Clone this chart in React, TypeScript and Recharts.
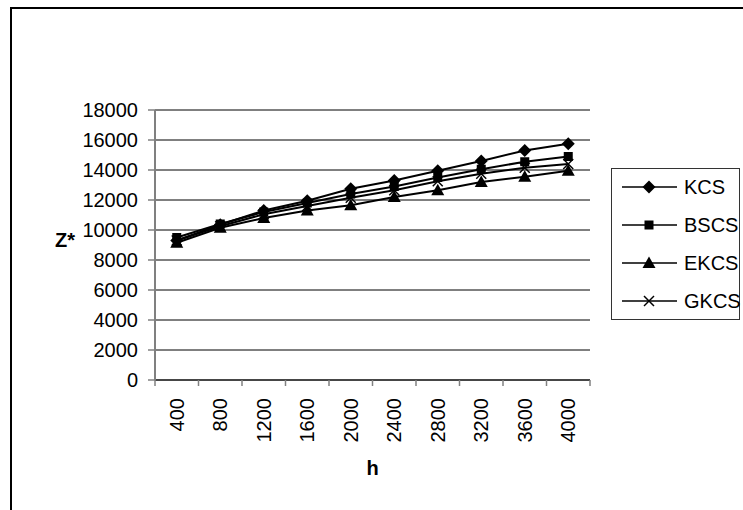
import React from 'react';
import { LineChart, Line, XAxis, YAxis, CartesianGrid, Legend } from 'recharts';

const hValues = [400, 800, 1200, 1600, 2000, 2400, 2800, 3200, 3600, 4000];
const kcs = [9300, 10350, 11300, 11950, 12750, 13300, 13950, 14600, 15300, 15750];
const bscs = [9500, 10400, 11200, 11800, 12400, 12900, 13500, 14050, 14550, 14900];
const ekcs = [9150, 10150, 10800, 11300, 11650, 12200, 12650, 13200, 13550, 13950];
const gkcs = [9300, 10250, 11050, 11600, 12150, 12650, 13250, 13750, 14150, 14400];
const yTicks = [0, 2000, 4000, 6000, 8000, 10000, 12000, 14000, 16000, 18000];

const data = hValues.map((h, i) => ({
  h,
  KCS: kcs[i],
  BSCS: bscs[i],
  EKCS: ekcs[i],
  GKCS: gkcs[i],
}));

const FONT = '"Liberation Sans", Arial, sans-serif';

const marker = (kind: string, cx: number, cy: number, key?: any) => {
  if (kind === 'diamond') {
    return <polygon key={key} points={`${cx},${cy - 6.5} ${cx + 6.5},${cy} ${cx},${cy + 6.5} ${cx - 6.5},${cy}`} fill="#000" />;
  }
  if (kind === 'square') {
    return <rect key={key} x={cx - 4.5} y={cy - 4.5} width={9} height={9} fill="#000" />;
  }
  if (kind === 'triangle') {
    return <polygon key={key} points={`${cx},${cy - 6.5} ${cx + 6.5},${cy + 5} ${cx - 6.5},${cy + 5}`} fill="#000" />;
  }
  return (
    <g key={key}>
      <line x1={cx - 5} y1={cy - 5} x2={cx + 5} y2={cy + 5} stroke="#000" strokeWidth={1.5} />
      <line x1={cx - 5} y1={cy + 5} x2={cx + 5} y2={cy - 5} stroke="#000" strokeWidth={1.5} />
    </g>
  );
};

const seriesList = [
  { key: 'KCS', kind: 'diamond' },
  { key: 'BSCS', kind: 'square' },
  { key: 'EKCS', kind: 'triangle' },
  { key: 'GKCS', kind: 'x' },
];

// ticks sit between categories, labels at the category centre
const XTick = (props: any) => {
  const { x, y, payload, index } = props;
  const off = payload && payload.offset ? payload.offset : 21.75;
  return (
    <g>
      <line x1={x - off} y1={y} x2={x - off} y2={y + 6} stroke="#808080" strokeWidth={1.5} />
      {index === hValues.length - 1 && (
        <line x1={x + off} y1={y} x2={x + off} y2={y + 6} stroke="#808080" strokeWidth={1.5} />
      )}
      <g transform={`translate(${x},${y + 18})`}>
        <text transform="rotate(-90)" textAnchor="end" dy="0.35em" fontSize={20} fill="#000" fontFamily={FONT}>
          {payload.value}
        </text>
      </g>
    </g>
  );
};

const LegendBox = () => (
  <div
    style={{
      width: 127,
      height: 150,
      border: '1px solid #333',
      background: '#fff',
      fontFamily: FONT,
      fontSize: 20,
      boxSizing: 'content-box',
    }}
  >
    {seriesList.map((s, i) => (
      <div key={s.key} style={{ position: 'absolute', left: 11, top: 4 + i * 38, height: 30, display: 'flex', alignItems: 'center' }}>
        <svg width={56} height={30}>
          <line x1={0} y1={15} x2={55} y2={15} stroke="#000" strokeWidth={1.5} />
          {marker(s.kind, 27, 15)}
        </svg>
        <span style={{ marginLeft: 6, color: '#000' }}>{s.key}</span>
      </div>
    ))}
  </div>
);

export default function App() {
  return (
    <div style={{ position: 'absolute', left: 0, top: 0, width: 743, height: 510, background: '#fff', fontFamily: FONT }}>
      <div
        style={{
          position: 'absolute',
          left: 10,
          top: 7,
          width: 740,
          height: 510,
          borderLeft: '2px solid #000',
          borderTop: '2px solid #000',
        }}
      />
      <LineChart
        width={743}
        height={510}
        data={data}
        margin={{ top: 110, right: 153, bottom: 0, left: 55 }}
        style={{ fontFamily: FONT }}
      >
        <CartesianGrid vertical={false} stroke="#000" strokeWidth={1} />
        <XAxis
          dataKey="h"
          type="category"
          scale="band"
          height={130}
          tickSize={0}
          tickMargin={0}
          tickLine={false}
          interval={0}
          axisLine={{ stroke: '#333', strokeWidth: 1.5 }}
          tick={<XTick />}
          label={{ value: 'h', position: 'insideBottom', offset: 35, style: { fontSize: 20, fontWeight: 'bold', fill: '#000', fontFamily: FONT } }}
        />
        <XAxis
          xAxisId="top"
          dataKey="h"
          scale="band"
          orientation="top"
          height={0}
          tick={false}
          tickLine={false}
          axisLine={{ stroke: '#808080', strokeWidth: 1.5 }}
          label={{ value: 'B=1', position: 'top', offset: 65, style: { fontSize: 20, fontWeight: 'bold', fill: '#000', fontFamily: FONT } }}
        />
        <YAxis
          width={100}
          domain={[0, 18000]}
          ticks={yTicks}
          interval={0}
          tickSize={7}
          tickMargin={10}
          axisLine={{ stroke: '#808080', strokeWidth: 2 }}
          tickLine={{ stroke: '#808080', strokeWidth: 1.5 }}
          tick={{ fontSize: 20, fill: '#000', fontFamily: FONT }}
          label={{ value: 'Z*', position: 'insideLeft', offset: 0, dy: -5, style: { fontSize: 20, fontWeight: 'bold', fill: '#000', fontFamily: FONT } }}
        />
        <YAxis
          yAxisId="right"
          orientation="right"
          width={0}
          domain={[0, 18000]}
          tick={false}
          tickLine={false}
          axisLine={{ stroke: '#808080', strokeWidth: 1.5 }}
        />
        {seriesList.map((s) => (
          <Line
            key={s.key}
            dataKey={s.key}
            stroke="#000"
            strokeWidth={2}
            isAnimationActive={false}
            dot={(p: any) => marker(s.kind, p.cx, p.cy, `${s.key}-${p.index}`)}
            activeDot={false}
          />
        ))}
        <Legend
          layout="horizontal"
          verticalAlign="middle"
          align="center"
          content={<LegendBox />}
          wrapperStyle={{ position: 'absolute', left: 611, top: 168, width: 129, height: 152 }}
        />
      </LineChart>
    </div>
  );
}
